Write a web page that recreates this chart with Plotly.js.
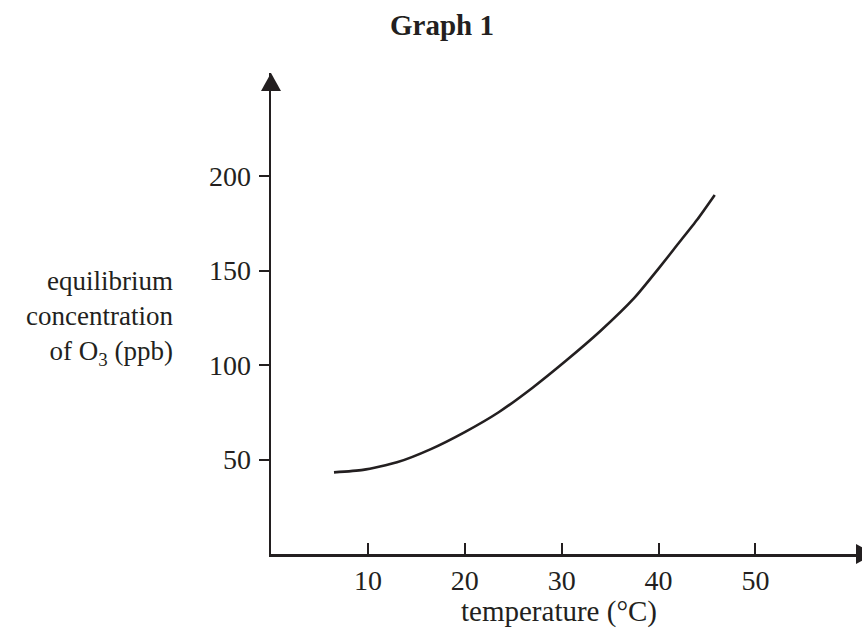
<!DOCTYPE html>
<html>
<head>
<meta charset="utf-8">
<script src="https://cdn.plot.ly/plotly-3.0.1.min.js"></script>
<style>html,body{margin:0;padding:0;background:#fff;}#chart{width:862px;height:633px;}</style>
</head>
<body>
<div id="chart"></div>
<script>
// Data
const temperature = [6.5, 9.5, 13.0, 16.5, 20.0, 23.5, 27.0, 30.5, 34.0, 37.5, 40.0, 42.0, 44.0, 45.8];
const o3Conc = [43.2, 44.5, 48.5, 55.5, 64.5, 75.0, 88.0, 102.5, 118.0, 135.5, 151.0, 164.0, 177.0, 190.0];
const xTicks = [10, 20, 30, 40, 50];
const yTicks = [50, 100, 150, 200];

const ink = '#231f20';
const serif = 'Liberation Serif, Times New Roman, serif';

const trace = {
  x: temperature,
  y: o3Conc,
  type: 'scatter',
  mode: 'lines',
  line: {color: ink, width: 2.6, shape: 'spline', smoothing: 0.6},
  hoverinfo: 'skip'
};

const layout = {
  width: 862,
  height: 633,
  margin: {l: 271, r: 0, t: 73, b: 79},
  paper_bgcolor: '#fff',
  plot_bgcolor: '#fff',
  showlegend: false,
  font: {family: serif, color: ink, size: 28},
  title: {
    text: '<b>Graph 1</b>',
    font: {family: serif, size: 29, color: ink},
    x: 442/862, xref: 'container', xanchor: 'center',
    y: 1 - 25/633, yref: 'container', yanchor: 'middle'
  },
  xaxis: {
    range: [0, 61],
    showgrid: false,
    zeroline: false,
    showline: true,
    linecolor: ink,
    linewidth: 2.5,
    ticks: 'inside',
    ticklen: 11,
    tickwidth: 2,
    tickcolor: ink,
    tickvals: xTicks,
    ticktext: xTicks.map(String),
    tickfont: {family: serif, size: 28, color: ink},
    ticklabelstandoff: 0,
    automargin: false,
    fixedrange: true
  },
  yaxis: {
    range: [0, 254.5],
    showgrid: false,
    zeroline: false,
    showline: true,
    linecolor: ink,
    linewidth: 2.5,
    ticks: 'outside',
    ticklen: 10,
    tickwidth: 2,
    tickcolor: ink,
    tickvals: yTicks,
    ticktext: yTicks.map(String),
    tickfont: {family: serif, size: 28, color: ink},
    ticklabelstandoff: 2,
    automargin: false,
    fixedrange: true
  },
  annotations: [
    {
      text: 'equilibrium<br>concentration<br>of O<sub>3</sub> (ppb)',
      xref: 'paper', yref: 'paper',
      x: -0.163, y: 0.49,
      xanchor: 'right', yanchor: 'middle',
      align: 'right',
      showarrow: false,
      font: {family: serif, size: 27, color: ink}
    },
    {
      text: 'temperature (°C)',
      xref: 'paper', yref: 'paper',
      x: (558.5 - 271) / 591, y: -0.12,
      xanchor: 'center', yanchor: 'middle',
      showarrow: false,
      font: {family: serif, size: 29, color: ink}
    }
  ],
  shapes: [
    {type: 'path', xref: 'paper', yref: 'paper', xsizemode: 'pixel', ysizemode: 'pixel',
     xanchor: 0, yanchor: 1, path: 'M-10,-18 L10,-18 L0,0 Z',
     fillcolor: ink, line: {width: 0}},
    {type: 'path', xref: 'paper', yref: 'paper', xsizemode: 'pixel', ysizemode: 'pixel',
     xanchor: 1, yanchor: 0, path: 'M-6,-10 L-6,10 L12,0 Z',
     fillcolor: ink, line: {width: 0}}
  ]
};

Plotly.newPlot('chart', [trace], layout, {staticPlot: true, displayModeBar: false});
</script>
</body>
</html>
